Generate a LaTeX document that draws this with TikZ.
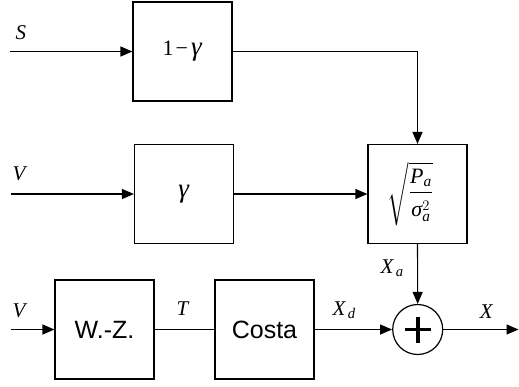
\documentclass[tikz,border=0pt]{standalone}
\usepackage{amsmath}
\usepackage{fontspec}
\setmainfont{Liberation Serif}
\setsansfont{Liberation Sans}
\usetikzlibrary{arrows.meta,positioning}

\begin{document}
\begin{tikzpicture}[x=1pt,y=-1pt,line width=1.2pt,
  blk/.style={draw,minimum size=99pt,inner sep=0pt,font=\fontsize{22}{24}\selectfont},
  sblk/.style={blk,font=\sffamily\fontsize{25}{28}\selectfont},
  sig/.style={font=\fontsize{21}{24}\selectfont,inner sep=0pt,anchor=base},
  flow/.style={-{Triangle[length=12pt,width=10pt]}}]
\useasboundingbox (0,0) rectangle (519,386);
% blocks
\node[blk] (gain1) at (182.5,51.5) {1\kern2pt−\kern3pt{\fontsize{27}{27}\selectfont\textit{γ}}};
\node[blk] (gain2) at (184,194) {{\fontsize{27}{27}\selectfont\textit{γ}}};
\node[blk,font=\fontsize{18}{20}\selectfont] (norm) at (417.5,194) {\scalebox{1.22}{$\sqrt{\dfrac{\textit{P}_{\textit{a}}\rule[-4pt]{0pt}{4pt}}{\rule{0pt}{17pt}\textit{σ}^{2}_{\textit{a}}}}$}\kern14pt};
\node[sblk] (wz) at (104.5,329.5) {W.-Z.};
\node[sblk] (costa) at (264.5,329.5) {Costa};
\node[draw,circle,minimum size=50pt,inner sep=0pt] (sum) at (417.7,329.5) {};
\draw[line width=3.6pt] (sum.center) +(-13,0) -- +(13,0) (sum.center) +(0,-13) -- +(0,13);
% free ends
\coordinate (inS) at (10,51.5);
\coordinate (inV) at (11,194);
\coordinate (inW) at (11,329.5);
\coordinate (outX) at (518.5,329.5);
% connectors
\draw[flow] (inS) -- (gain1);
\draw[flow] (gain1) -| (norm);
\draw[flow] (inV) -- (gain2);
\draw[flow] (gain2) -- (norm);
\draw[flow] (inW) -- (wz);
\draw (wz) -- (costa);
\draw[flow] (costa) -- (sum);
\draw[flow] (norm) -- (sum);
\draw[flow] (sum) -- (outX);
% signal labels
\node[sig] (lS) at (21,39) {\textit{S}};
\node[sig] (lV) at (20,180) {\textit{V}};
\node[sig] (lVw) at (20,317) {\textit{V}};
\node[sig] (lT) at (183,315) {\textit{T}};
\node[sig,anchor=base west] (lXa) at (380,273) {$\textit{X}_{\,\textit{a}}$};
\node[sig,anchor=base west] (lXd) at (332,315) {$\textit{X}_{\,\textit{d}}$};
\node[sig] (lX) at (486.5,318) {\textit{X}};
\end{tikzpicture}
\end{document}
